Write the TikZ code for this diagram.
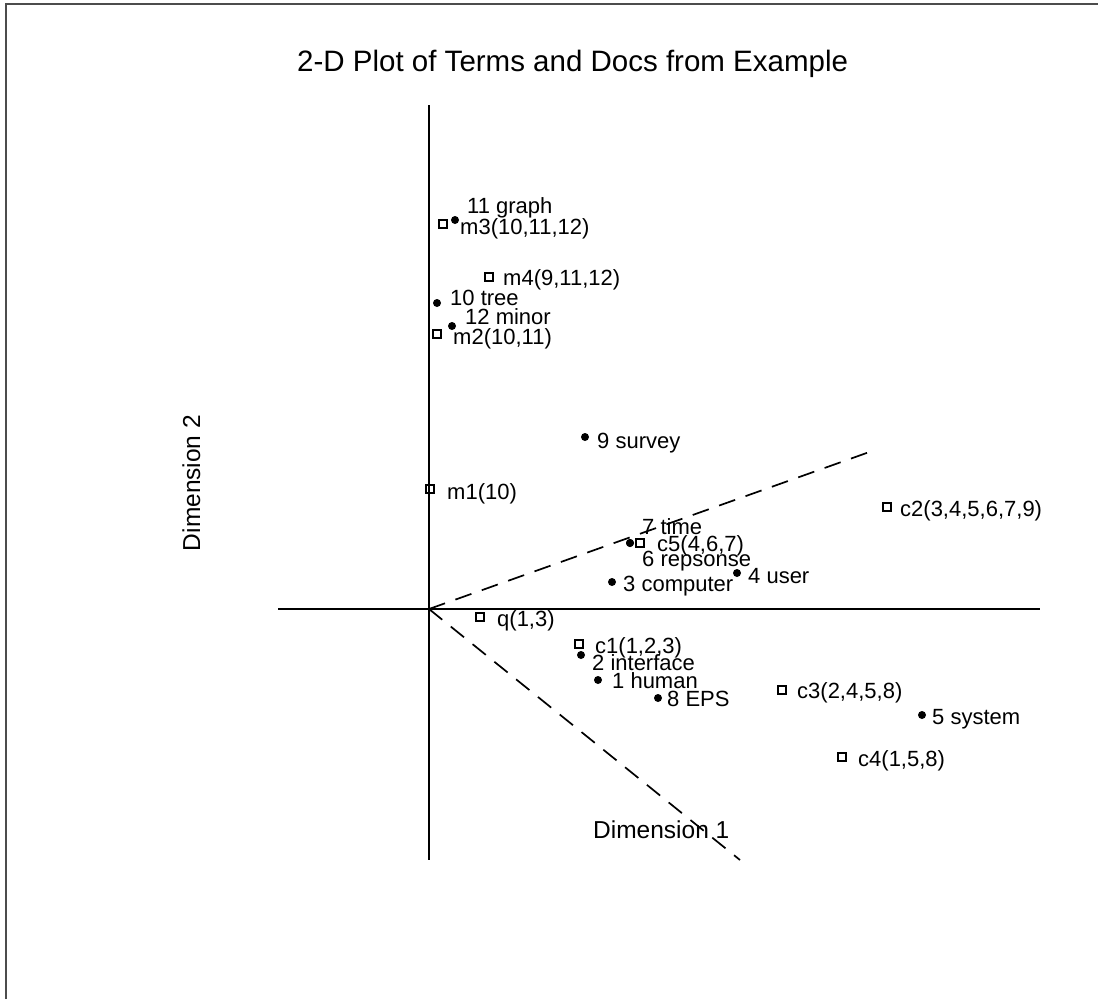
\documentclass[tikz,border=0pt]{standalone}
\usepackage{fontspec}
\setmainfont{Liberation Sans}

\begin{document}
\begin{tikzpicture}
  [x=1pt, y=-1pt,
   term/.style={circle, fill=black, inner sep=0pt, minimum size=8pt},
   doc/.style={draw, rectangle, line width=1.1pt, inner sep=0pt, minimum size=8pt},
   lbl/.style={anchor=west, inner sep=0pt, text height=16pt, text depth=0pt,
     font=\fontsize{22}{25}\selectfont},
   dimlbl/.style={lbl, font=\fontsize{24.5}{28}\selectfont},
   axis/.style={line width=1.8pt},
   proj/.style={line width=1.7pt, dash pattern=on 17pt off 11pt}]
  \useasboundingbox (0,0) rectangle (1098,999);
  \draw[line width=2pt, black!70] (6,999) -- (6,4) -- (1098,4);

  \node[anchor=west, inner sep=0pt, text height=23pt, text depth=0pt,
    font=\fontsize{29.5}{34}\selectfont] (title) at (297,60)
    {2-D Plot of Terms and Docs from Example};

  % axes
  \coordinate (o) at (429,609);
  \coordinate (top) at (429,105);
  \coordinate (bot) at (429,860);
  \coordinate (west) at (278,609);
  \coordinate (east) at (1040,609);
  \draw[axis] (top) -- (bot);
  \draw[axis] (west) -- (east);
  \coordinate (upper) at (875,450);
  \coordinate (lower) at (740,860);
  \draw[proj] (o) -- (upper);
  \draw[proj] (o) -- (lower);
  \node[dimlbl, rotate=90, anchor=center] (dim2) at (192,483) {Dimension 2};
  \node[dimlbl] (dim1) at (593,830) {Dimension 1};

  % terms
  \node[term] (t1) at (598,680) {};
  \node[term] (t2) at (581,655) {};
  \node[term] (t3) at (612,582) {};
  \node[term] (t4) at (737,573) {};
  \node[term] (t5) at (922,715) {};
  \node[term] (t6) at (630,543) {};
  \node[term] (t7) at (630,543) {};
  \node[term] (t8) at (658,698) {};
  \node[term] (t9) at (585,437) {};
  \node[term] (t10) at (437,303) {};
  \node[term] (t11) at (455,220) {};
  \node[term] (t12) at (452,326) {};
  \node[lbl] (l1) at (612,680) {1 human};
  \node[lbl] (l2) at (592,662) {2 interface};
  \node[lbl] (l3) at (623,583) {3 computer};
  \node[lbl] (l4) at (748,575) {4 user};
  \node[lbl] (l5) at (932,716) {5 system};
  \node[lbl] (l6) at (642,558) {6 repsonse};
  \node[lbl] (l7) at (642,526) {7 time};
  \node[lbl] (l8) at (667,698) {8 EPS};
  \node[lbl] (l9) at (597,440) {9 survey};
  \node[lbl] (l10) at (450,297) {10 tree};
  \node[lbl] (l11) at (467,205) {11 graph};
  \node[lbl] (l12) at (465,316) {12 minor};

  % documents
  \node[doc] (c1) at (579,644) {};
  \node[doc] (c2) at (887,507) {};
  \node[doc] (c3) at (782,690) {};
  \node[doc] (c4) at (842,757) {};
  \node[doc] (c5) at (640,543) {};
  \node[doc] (m1) at (430,489) {};
  \node[doc] (m2) at (437,334) {};
  \node[doc] (m3) at (443,224) {};
  \node[doc] (m4) at (489,277) {};
  \node[doc] (q) at (480,617) {};
  \node[lbl] (lc1) at (595,645) {c1(1,2,3)};
  \node[lbl] (lc2) at (900,508) {c2(3,4,5,6,7,9)};
  \node[lbl] (lc3) at (797,690) {c3(2,4,5,8)};
  \node[lbl] (lc4) at (858,758) {c4(1,5,8)};
  \node[lbl] (lc5) at (657,543) {c5(4,6,7)};
  \node[lbl] (lm1) at (447,491) {m1(10)};
  \node[lbl] (lm2) at (453,336) {m2(10,11)};
  \node[lbl] (lm3) at (460,226) {m3(10,11,12)};
  \node[lbl] (lm4) at (503,277) {m4(9,11,12)};
  \node[lbl] (lq) at (497,618) {q(1,3)};
\end{tikzpicture}
\end{document}
